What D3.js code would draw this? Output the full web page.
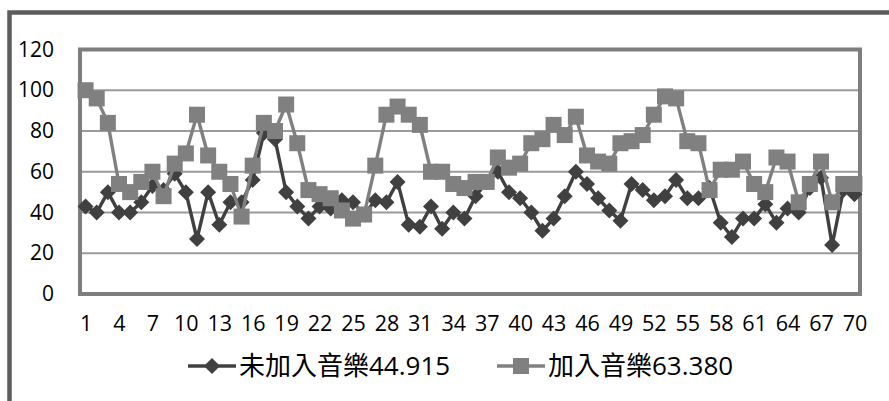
<!DOCTYPE html>
<html>
<head>
<meta charset="utf-8">
<script src="https://cdn.jsdelivr.net/npm/d3@7"></script>
<style>
  html, body { margin: 0; padding: 0; background: #ffffff; }
  svg { display: block; }
  text { font-family: "Open Sans", "Noto Sans CJK TC", sans-serif; fill: #000; }
</style>
</head>
<body>
<svg id="chart" width="889" height="401"></svg>
<script>
// Trial index (x axis categories)
const categories = d3.range(1, 71);

// Scores without music
const withoutMusic = [
  43, 40, 50, 40, 40, 45, 53, 51, 59, 50,
  27, 50, 34, 45, 45, 56, 79, 76, 50, 43,
  37, 43, 42, 46, 45, 39, 46, 45, 55, 34,
  33, 43, 32, 40, 37, 48, 55, 60, 50, 47,
  40, 31, 37, 48, 60, 54, 47, 41, 36, 54,
  51, 46, 48, 56, 47, 47, 52, 35, 28, 37,
  37, 44, 35, 42, 40, 52, 57, 24, 51, 49
];

// Scores with music
const withMusic = [
  100, 96, 84, 54, 50, 55, 60, 48, 64, 69,
  88, 68, 60, 54, 38, 63, 84, 80, 93, 74,
  51, 49, 47, 41, 37, 39, 63, 88, 92, 88,
  83, 60, 60, 54, 52, 55, 55, 67, 62, 64,
  74, 76, 83, 78, 87, 68, 65, 64, 74, 75,
  78, 88, 97, 96, 75, 74, 51, 61, 61, 65,
  54, 50, 67, 65, 45, 54, 65, 45, 54, 54
];

const seriesNames = ["未加入音樂44.915", "加入音樂63.380"];
const xTickLabels = [1, 4, 7, 10, 13, 16, 19, 22, 25, 28, 31, 34, 37, 40, 43, 46, 49, 52, 55, 58, 61, 64, 67, 70];
const yTickLabels = [0, 20, 40, 60, 80, 100, 120];

const svg = d3.select("#chart");

const plot = { left: 80, right: 860, top: 49.5, bottom: 294 };

const x = d3.scalePoint()
  .domain(categories)
  .range([plot.left, plot.right])
  .padding(0.5);

const y = d3.scaleLinear()
  .domain([0, 120])
  .range([plot.bottom, plot.top]);

// Outer chart frame (extends past the visible window on the right and bottom)
svg.append("rect")
  .attr("x", 9.5).attr("y", 12.5)
  .attr("width", 1000).attr("height", 1000)
  .attr("fill", "none")
  .attr("stroke", "#5c5c5c")
  .attr("stroke-width", 4.5);

// Horizontal gridlines
svg.append("g")
  .selectAll("line")
  .data(yTickLabels.filter(v => v > 0 && v < 120))
  .join("line")
  .attr("x1", plot.left).attr("x2", plot.right)
  .attr("y1", d => y(d)).attr("y2", d => y(d))
  .attr("stroke", "#9a9a9a")
  .attr("stroke-width", 1.8);

// Plot area border
svg.append("rect")
  .attr("x", plot.left).attr("y", plot.top)
  .attr("width", plot.right - plot.left)
  .attr("height", plot.bottom - plot.top)
  .attr("fill", "none")
  .attr("stroke", "#7e7e7e")
  .attr("stroke-width", 4);

// Y axis labels
const yAxis = d3.axisLeft(y)
  .tickValues(yTickLabels)
  .tickSize(0)
  .tickPadding(0)
  .tickFormat(d3.format("d"));
const yG = svg.append("g")
  .attr("transform", `translate(${54},0)`)
  .call(yAxis);
yG.select(".domain").remove();
yG.selectAll("text")
  .attr("font-size", 21)
  .attr("font-family", "'Open Sans', sans-serif")
  .attr("fill", "#000");

// X axis labels
const xAxis = d3.axisBottom(x)
  .tickValues(xTickLabels)
  .tickSize(0)
  .tickPadding(0);
const xG = svg.append("g")
  .attr("transform", `translate(0,${316})`)
  .call(xAxis);
xG.select(".domain").remove();
xG.selectAll("text")
  .attr("font-size", 21.5)
  .attr("font-family", "'Open Sans', sans-serif")
  .attr("fill", "#000");

// Series styling
const styles = [
  { values: withoutMusic, color: "#404040", marker: "diamond" },
  { values: withMusic, color: "#808080", marker: "square" }
];

const line = d3.line()
  .x((d, i) => x(categories[i]))
  .y(d => y(d));

function drawMarker(sel, type, color) {
  if (type === "diamond") {
    sel.append("path")
      .attr("d", "M0,-8 L8,0 L0,8 L-8,0 Z")
      .attr("fill", color);
  } else {
    sel.append("rect")
      .attr("x", -8).attr("y", -8)
      .attr("width", 16).attr("height", 16)
      .attr("fill", color);
  }
}

styles.forEach(s => {
  const g = svg.append("g");
  g.append("path")
    .datum(s.values)
    .attr("d", line)
    .attr("fill", "none")
    .attr("stroke", s.color)
    .attr("stroke-width", 3.4)
    .attr("stroke-linejoin", "round");
  g.selectAll("g.m")
    .data(s.values)
    .join("g")
    .attr("class", "m")
    .attr("transform", (d, i) => `translate(${x(categories[i])},${y(d)})`)
    .each(function () { drawMarker(d3.select(this), s.marker, s.color); });
});

// Legend
const legendItems = [
  { name: seriesNames[0], style: styles[0], x0: 188 },
  { name: seriesNames[1], style: styles[1], x0: 497 }
];
const legendY = 366;
legendItems.forEach(item => {
  const g = svg.append("g");
  g.append("line")
    .attr("x1", item.x0).attr("x2", item.x0 + 48)
    .attr("y1", legendY).attr("y2", legendY)
    .attr("stroke", item.style.color)
    .attr("stroke-width", 3.5);
  const m = g.append("g").attr("transform", `translate(${item.x0 + 24},${legendY})`);
  drawMarker(m, item.style.marker, item.style.color);
  g.append("text")
    .attr("x", item.x0 + 51)
    .attr("y", legendY)
    .attr("dy", "0.36em")
    .attr("font-size", 26)
    .text(item.name);
});
</script>
</body>
</html>
